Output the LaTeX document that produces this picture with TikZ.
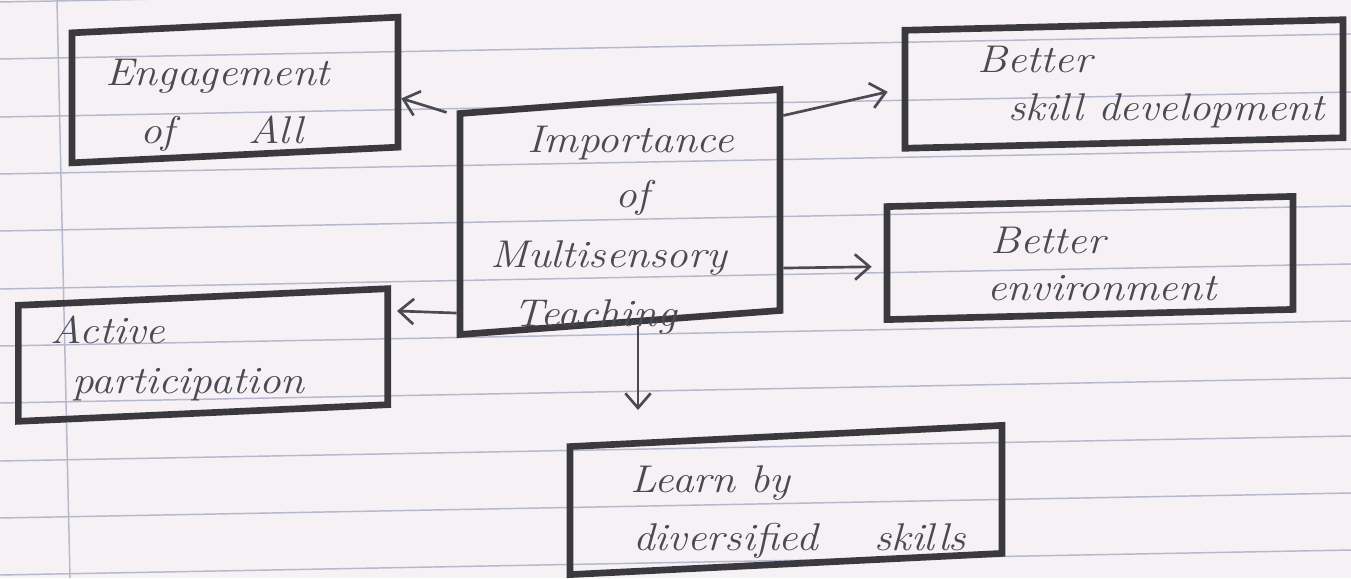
\documentclass[tikz,border=0pt]{standalone}
\usetikzlibrary{arrows.meta,calc}
\definecolor{paper}{HTML}{F6F1F5}
\definecolor{rule}{HTML}{B4B9CB}
\definecolor{ink}{HTML}{3A3A3E}
\definecolor{pencil}{HTML}{4A4A52}
\begin{document}
\begin{tikzpicture}[x=0.75pt,y=-0.75pt,
  box/.style={draw=ink,line width=5pt,inner sep=0pt},
  hand/.style={text=pencil,font=\fontsize{29}{36}\selectfont\itshape,inner sep=0pt,anchor=base west},
  conn/.style={draw=pencil,line width=2pt,-{Straight Barb[length=11pt,width=19pt,line width=2pt]}},
  paperline/.style={draw=rule,line width=1.1pt}]
\fill[paper] (0,0) rectangle (1351,578);
\useasboundingbox (0,0) rectangle (1351,578);
% ruled paper
\foreach \y in {2,59,117,174,231,289,346,403,461,518,575}
  \draw[paperline] (0,\y) -- (1351,\y-25);
\draw[paperline] (57,0) -- (70,578);
% boxes (hand-drawn: vertical sides, top and bottom rising to the right)
\node[box,minimum width=244.5pt,minimum height=97.5pt,yslant=0.048] (eng) at (235,90) {};
\node[box,minimum width=240pt,minimum height=165.75pt,yslant=0.075] (imp) at (620,212) {};
\node[box,minimum width=328.5pt,minimum height=88.5pt,yslant=0.024] (skl) at (1124,84) {};
\node[box,minimum width=304.5pt,minimum height=84.75pt,yslant=0.025] (env) at (1090,258) {};
\node[box,minimum width=277pt,minimum height=87pt,yslant=0.045] (act) at (203,355) {};
\node[box,minimum width=324pt,minimum height=96pt,yslant=0.049] (lrn) at (786,500) {};
% texts
\newcommand{\wide}[1]{\scalebox{1.12}[1]{#1}}
\node[hand] (engA) at (105,85) {\wide{Engagement}};
\node[hand] (engB) at (140,143) {\wide{of\hspace{1.7em}All}};
\node[hand] (impA) at (527,152) {\wide{Importance}};
\node[hand] (impB) at (615,207) {\wide{of}};
\node[hand] (impC) at (490,267) {\wide{Multisensory}};
\node[hand] (impD) at (513,326) {\wide{Teaching}};
\node[hand] (sklA) at (977,72) {\wide{Better}};
\node[hand] (sklB) at (1008,120) {\wide{skill development}};
\node[hand] (envA) at (990,253) {\wide{Better}};
\node[hand] (envB) at (987,300) {\wide{environment}};
\node[hand] (actA) at (50,343) {\wide{Active}};
\node[hand] (actB) at (72,393) {\wide{participation}};
\node[hand] (lrnA) at (630,492) {\wide{Learn by}};
\node[hand] (lrnB) at (633,550) {\wide{diversified\hspace{1.3em}skills}};
% connectors
\coordinate (down) at (638,410);
\draw[conn] ($(imp.north west)+(-10,2)$) -- ($(eng.north east)!0.62!(eng.south east)$);
\draw[conn] ($(imp.north east)!0.13!(imp.south east)$) -- ($(skl.north west)!0.52!(skl.south west)+(-14,0)$);
\draw[conn] ($(imp.north east)!0.8!(imp.south east)$) -- ($(env.north west)!0.53!(env.south west)+(-12,0)$);
\draw[conn] ($(imp.north west)!0.89!(imp.south west)$) -- ($(act.north east)!0.21!(act.south east)+(6,0)$);
\draw[conn] (imp.south -| down) -- (down);
\end{tikzpicture}
\end{document}
